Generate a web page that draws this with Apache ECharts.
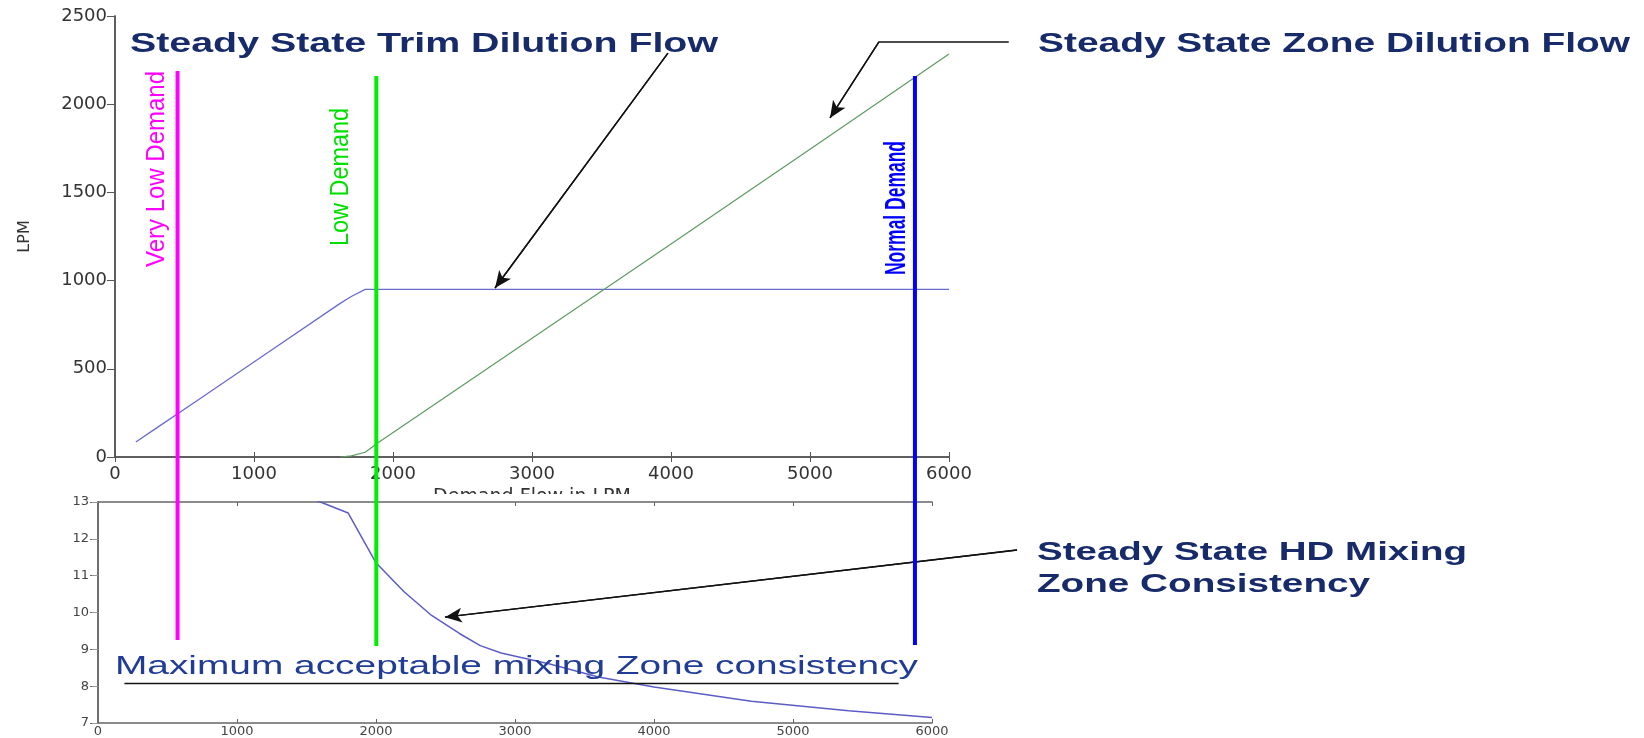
<!DOCTYPE html>
<html><head><meta charset="utf-8">
<script src="https://cdn.jsdelivr.net/npm/echarts@6/dist/echarts.min.js"></script>
<style>html,body{margin:0;padding:0;background:#fff}#c{width:1644px;height:738px}</style>
</head><body><div id="c"></div>
<script>
// ---- data ----
const trimFlow = [[150,85],[300,165],[600,325],[1100,592],[1620,871],[1700,910],[1800,950],[6000,950]];
const zoneFlow = [[1620,0],[1700,6],[1800,27],[1900,85],[2770,550],[4000,1208],[5000,1745],[6000,2285]];
const consistency = [[1500,13.15],[1600,13.0],[1800,12.7],[2000,11.35],[2200,10.57],[2400,9.92],[2600,9.43],[2750,9.1],[2900,8.9],[3250,8.6],[3600,8.25],[4000,7.98],[4700,7.59],[5400,7.33],[6000,7.15]];
const demandNames = ['Very Low Demand','Low Demand','Normal Demand'];
const demandX = [450,1880,5755];
const demandTop = [2188,2160,2160];
const demandBottom = [-1037,-1071,-1066];
const maxConsistency = 8.07;
const maxConsistencyRange = [190,5760];
const arrowTrim = [[3978,2290],[2734,958]];
const arrowZone = [[6430,2353],[5496,2353],[5144,1922]];
const arrowMix = [[6612,11.72],[2496,9.93]];

const cv = document.createElement('canvas').getContext('2d');
function fit(text, font, w){ cv.font = font; return w / cv.measureText(text).width; }

const AX = '#555';
const chart = echarts.init(document.getElementById('c'));
const F_TITLE = 'bold 27px "Liberation Sans"';
const F_T3 = 'bold 25px "Liberation Sans"';
const F_MAX = '25px "Liberation Sans"';
const NAVY = '#172b6b';
const plain = v => String(v);

function hText(text, x, y, font, w, color){
  return {type:'text', x:x, y:y, z:10, scaleX: fit(text, font, w), silent:true,
    style:{text:text, font:font, fill:color, align:'left', verticalAlign:'middle'}};
}
function vText(text, x, y, font, len, color, thick){
  return {type:'text', x:x, y:y, z:10, rotation:Math.PI/2, scaleX: fit(text, font, len), scaleY: thick || 1, silent:true,
    style:{text:text, font:font, fill:color, align:'center', verticalAlign:'middle'}};
}

const baseAxis = {type:'value', min:0, max:6000, interval:1000, splitLine:{show:false},
  axisLine:{lineStyle:{color:AX, width:1.5}}};
const arrowLine = {silent:true, symbol:['none','arrow'], symbolSize:[11,17], label:{show:false},
  emphasis:{disabled:true}, lineStyle:{color:'#111', width:1.4, type:'solid'}};

const demandColors = ['#ff00ff','#00ee00','#0000ff'];

const option = {
  animation:false,
  grid:[
    {left:115, top:16, width:834, height:441},
    {left:98, top:502, width:834, height:225},
    // overlay grids on the same scales, extended to the right for annotation arrows
    {left:115, top:16, width:973, height:441},
    {left:98, top:502, width:973, height:225}
  ],
  xAxis:[
    Object.assign({}, baseAxis, {gridIndex:0, position:'bottom',
      axisTick:{inside:true, length:5, lineStyle:{color:AX}},
      axisLabel:{margin:8, fontSize:18, fontFamily:'DejaVu Sans', color:'#333', formatter:plain},
      name:'Demand Flow in LPM', nameLocation:'middle', nameGap:28,
      nameTextStyle:{fontSize:19, fontFamily:'DejaVu Sans', color:'#333'}}),
    Object.assign({}, baseAxis, {gridIndex:0, position:'top',
      axisTick:{inside:true, length:5, lineStyle:{color:AX}}, axisLabel:{show:false}}),
    Object.assign({}, baseAxis, {gridIndex:1, position:'bottom', z:3,
      axisLine:{lineStyle:{color:'#666', width:1.5}},
      axisTick:{inside:true, length:4, lineStyle:{color:'#666'}},
      axisLabel:{margin:2, fontSize:13, fontFamily:'DejaVu Sans', color:'#444', formatter:plain}}),
    Object.assign({}, baseAxis, {gridIndex:1, position:'top', z:3,
      axisLine:{lineStyle:{color:'#666', width:1.5}},
      axisTick:{inside:true, length:4, lineStyle:{color:'#666'}}, axisLabel:{show:false}}),
    {type:'value', gridIndex:2, min:0, max:7000, show:false},
    {type:'value', gridIndex:3, min:0, max:7000, show:false}
  ],
  yAxis:[
    {type:'value', gridIndex:0, min:0, max:2500, interval:500, position:'left', splitLine:{show:false},
      axisLine:{show:true, lineStyle:{color:AX, width:1.5}},
      axisTick:{show:true, inside:false, length:8, lineStyle:{color:AX}},
      axisLabel:{margin:8, fontSize:18, fontFamily:'DejaVu Sans', color:'#333', formatter:plain},
      name:'LPM', nameLocation:'middle', nameGap:82,
      nameTextStyle:{fontSize:16, fontFamily:'DejaVu Sans', color:'#333'}},
    {type:'value', gridIndex:0, min:0, max:2500, interval:500, position:'right', splitLine:{show:false},
      axisLine:{show:true, lineStyle:{color:AX, width:1.5}},
      axisTick:{show:true, inside:true, length:6, lineStyle:{color:AX}}, axisLabel:{show:false}},
    {type:'value', gridIndex:1, min:7, max:13, interval:1, position:'left', splitLine:{show:false}, z:3,
      axisLine:{show:true, lineStyle:{color:'#666', width:1.5}},
      axisTick:{show:true, inside:false, length:8, lineStyle:{color:'#666'}},
      axisLabel:{margin:9, fontSize:13, fontFamily:'DejaVu Sans', color:'#444', formatter:plain}},
    {type:'value', gridIndex:1, min:7, max:13, interval:1, position:'right', splitLine:{show:false}, z:3,
      axisLine:{show:true, lineStyle:{color:'#666', width:1.5}},
      axisTick:{show:true, inside:true, length:6, lineStyle:{color:'#999'}}, axisLabel:{show:false}},
    {type:'value', gridIndex:2, min:0, max:2500, show:false},
    {type:'value', gridIndex:3, min:7, max:13, show:false}
  ],
  series:[
    {type:'line', name:'Trim Dilution Flow', xAxisIndex:0, yAxisIndex:0, data:trimFlow, symbol:'none',
      lineStyle:{color:'#6a6ad0', width:1.3}, z:4},
    {type:'line', name:'Zone Dilution Flow', xAxisIndex:0, yAxisIndex:0, data:zoneFlow, symbol:'none',
      lineStyle:{color:'#5e9a62', width:1.2}, z:4},
    {type:'line', name:'HD Mixing Consistency', xAxisIndex:2, yAxisIndex:2, data:consistency, symbol:'none',
      clip:true, lineStyle:{color:'#5c5cc6', width:1.5}, z:4},
    {type:'line', name:'Max acceptable', xAxisIndex:2, yAxisIndex:2,
      data:[[maxConsistencyRange[0], maxConsistency],[maxConsistencyRange[1], maxConsistency]], symbol:'none',
      lineStyle:{color:'#111', width:1.5}, z:4},
    // annotation arrows
    {type:'line', name:'arrowTrim', xAxisIndex:4, yAxisIndex:4, data:arrowTrim, symbol:'none',
      lineStyle:{color:'#111', width:1.4}, z:6,
      markLine:Object.assign({}, arrowLine, {data:[[{coord:arrowTrim[0]},{coord:arrowTrim[1]}]]})},
    {type:'line', name:'arrowZone', xAxisIndex:4, yAxisIndex:4, data:arrowZone, symbol:'none',
      lineStyle:{color:'#111', width:1.4}, z:6,
      markLine:Object.assign({}, arrowLine, {data:[[{coord:arrowZone[1]},{coord:arrowZone[2]}]]})},
    {type:'line', name:'arrowMix', xAxisIndex:5, yAxisIndex:5, data:arrowMix, symbol:'none',
      lineStyle:{color:'#111', width:1.4}, z:6,
      markLine:Object.assign({}, arrowLine, {data:[[{coord:arrowMix[0]},{coord:arrowMix[1]}]]})}
  ].concat(demandX.map((x,i)=>({
    type:'line', name:demandNames[i], xAxisIndex:0, yAxisIndex:0, clip:false, symbol:'none', z:7,
    data:[[x, demandTop[i]],[x, demandBottom[i]]],
    lineStyle:{color:demandColors[i], width:4}
  }))),
  graphic:[
    {type:'rect', z:1, silent:true, shape:{x:370, y:494, width:340, height:30}, style:{fill:'#fff'}},
    hText('Steady State Trim Dilution Flow', 130, 45, F_TITLE, 588, NAVY),
    hText('Steady State Zone Dilution Flow', 1038, 45, F_TITLE, 592, NAVY),
    hText('Steady State HD Mixing', 1037, 553, F_T3, 430, NAVY),
    hText('Zone Consistency', 1037, 585, F_T3, 333, NAVY),
    hText('Maximum acceptable mixing Zone consistency', 115, 667, F_MAX, 803, '#203c96'),
    vText('Very Low Demand', 157, 169, '24px "Liberation Sans"', 196, '#ff00ff', 1.1),
    vText('Low Demand', 341, 177, '24px "Liberation Sans"', 138, '#00e000', 1.1),
    vText('Normal Demand', 897, 208, 'bold 24px "Liberation Sans"', 134, '#0000ff', 1.25)
  ]
};
chart.setOption(option);
</script></body></html>
